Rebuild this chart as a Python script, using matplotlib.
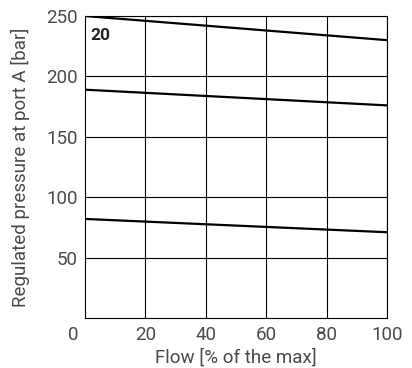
import matplotlib.pyplot as plt

flow = [0, 100]
curve_high = [250, 230]
curve_mid = [189, 176]
curve_low = [82, 71]
xticks = [20, 40, 60, 80, 100]
yticks = [50, 100, 150, 200, 250]

plt.rcParams['font.family'] = ['Roboto', 'DejaVu Sans']
text_color = '#4a4a4a'
fs = 13.5

fig = plt.figure(figsize=(4.12, 3.68), dpi=100)
ax = fig.add_axes([85 / 412, 1 - 318 / 368, 302 / 412, 302 / 368])

for c in (curve_high, curve_mid, curve_low):
    ax.plot(flow, c, color='black', lw=1.6, solid_capstyle='butt', zorder=3)

ax.set_xlim(0, 100)
ax.set_ylim(0, 250)
ax.set_xticks(xticks)
ax.set_yticks(yticks)
ax.grid(True, color='black', lw=0.8)
ax.tick_params(length=0, labelsize=fs, labelcolor=text_color, pad=5)
ax.tick_params(axis='x', pad=6)
for s in ax.spines.values():
    s.set_color('black')
    s.set_linewidth(0.8)

ax.text(-0.02, -0.025, '0', transform=ax.transAxes, ha='right', va='top',
        fontsize=fs, color=text_color)
ax.text(1.7, 234, '20', fontsize=12.5, fontweight='bold', color='#222222',
        va='center')

ax.set_xlabel('Flow [% of the max]', fontsize=fs, color=text_color,
              labelpad=3)
ax.set_ylabel('Regulated pressure at port A [bar]', fontsize=fs,
              color=text_color, labelpad=12)

fig.savefig('out.png', dpi=100)
